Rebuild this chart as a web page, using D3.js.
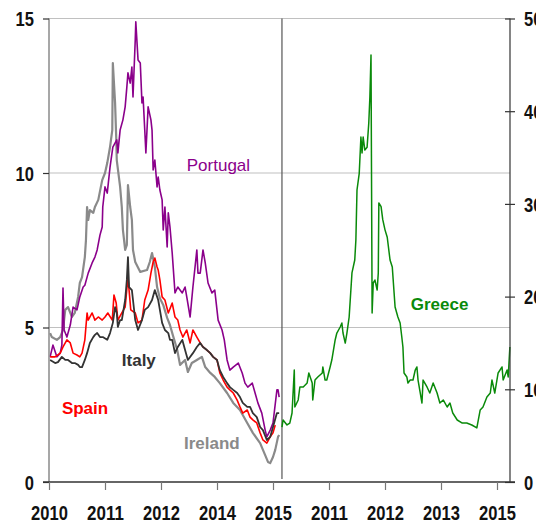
<!DOCTYPE html>
<html>
<head>
<meta charset="utf-8">
<script src="https://cdn.jsdelivr.net/npm/d3@7"></script>
<style>
  body { margin: 0; background: #fff; }
  svg { display: block; }
</style>
</head>
<body>
<svg id="chart"></svg>
<script>
// Position along the x axis is in "axis years" from the first tick (0 = 2010 tick).
// Left panel: peripheral spreads (left scale, %). Right panel: Greece (right scale, %).
const tickPos = [0, 1, 2, 3, 4, 5, 6, 7, 8];
const tickLabels = ["2010", "2011", "2012", "2014", "2015", "2011", "2012", "2013", "2015"];
const leftTicks = [0, 5, 10, 15];
const rightTicks = [0, 10, 20, 30, 40, 50];
const gridValues = [5, 10, 15];
const splitAt = 4.16; // where the Greece panel starts

const portugal = [[0.02,4.05],[0.07,4.43],[0.14,4.05],[0.20,4.17],[0.23,4.43],[0.25,6.28],[0.27,4.92],[0.32,4.69],[0.38,5.08],[0.43,5.66],[0.50,5.57],[0.55,5.99],[0.61,6.31],[0.64,6.37],[0.70,6.76],[0.77,7.09],[0.82,7.28],[0.86,7.51],[0.91,7.99],[0.95,8.25],[0.96,8.90],[1.00,9.55],[1.04,9.35],[1.09,10.19],[1.14,10.84],[1.21,11.07],[1.23,10.65],[1.27,11.39],[1.32,11.72],[1.36,12.14],[1.39,12.78],[1.41,13.24],[1.45,12.91],[1.48,13.43],[1.50,12.46],[1.54,14.30],[1.55,14.89],[1.59,13.66],[1.63,13.56],[1.66,12.27],[1.68,12.46],[1.71,11.39],[1.73,10.65],[1.77,12.14],[1.82,11.72],[1.84,11.39],[1.86,10.10],[1.89,10.42],[1.93,9.55],[1.95,9.87],[1.98,9.45],[2.02,9.13],[2.04,8.16],[2.07,8.90],[2.11,7.61],[2.13,8.71],[2.16,8.26],[2.20,7.41],[2.25,6.12],[2.30,6.31],[2.38,6.12],[2.43,6.31],[2.46,5.99],[2.52,5.34],[2.57,6.31],[2.64,7.51],[2.66,6.76],[2.70,6.76],[2.75,7.51],[2.79,7.09],[2.84,6.44],[2.91,6.12],[2.96,6.21],[3.02,5.24],[3.09,4.92],[3.13,4.60],[3.18,3.95],[3.23,3.62],[3.29,3.72],[3.38,3.85],[3.45,3.53],[3.50,3.20],[3.55,3.07],[3.63,3.20],[3.68,2.88],[3.73,2.56],[3.80,2.23],[3.86,1.68],[3.89,1.46],[3.95,1.68],[4.00,1.91],[4.07,2.98],[4.09,2.98],[4.11,2.75]];

const ireland = [[0.02,4.82],[0.05,4.69],[0.14,4.60],[0.20,4.69],[0.25,4.92],[0.29,5.57],[0.34,5.66],[0.41,5.34],[0.46,5.47],[0.52,5.99],[0.55,6.44],[0.59,6.63],[0.64,7.28],[0.66,7.83],[0.68,8.90],[0.70,8.48],[0.73,8.80],[0.79,8.71],[0.82,8.90],[0.88,9.13],[0.95,9.77],[1.00,10.00],[1.04,10.32],[1.09,10.84],[1.13,11.39],[1.14,13.56],[1.18,12.27],[1.20,11.17],[1.21,10.42],[1.27,9.55],[1.30,8.90],[1.32,8.16],[1.36,7.51],[1.39,7.67],[1.41,9.61],[1.45,8.90],[1.48,8.48],[1.50,7.51],[1.54,7.12],[1.63,6.80],[1.75,6.86],[1.80,7.12],[1.84,7.41],[1.89,6.96],[1.93,6.31],[1.98,5.95],[2.04,5.73],[2.11,5.31],[2.16,5.08],[2.21,4.76],[2.29,4.27],[2.34,3.79],[2.43,3.95],[2.48,3.56],[2.55,3.85],[2.64,3.95],[2.73,4.05],[2.79,3.72],[2.88,3.53],[2.96,3.40],[3.05,3.20],[3.18,2.88],[3.29,2.56],[3.41,2.33],[3.54,1.91],[3.64,1.59],[3.77,1.26],[3.86,0.87],[3.91,0.65],[3.95,0.61],[4.00,0.81],[4.04,1.04],[4.09,1.46],[4.11,1.52]];

const italy = [[0.02,3.95],[0.11,3.85],[0.16,3.88],[0.23,4.05],[0.29,3.95],[0.34,3.95],[0.41,3.85],[0.46,3.85],[0.52,3.79],[0.55,3.72],[0.59,3.72],[0.64,3.95],[0.68,4.17],[0.73,4.50],[0.79,4.69],[0.82,4.76],[0.86,4.82],[0.91,4.69],[0.96,4.69],[1.04,4.60],[1.09,4.82],[1.14,5.15],[1.18,5.66],[1.21,5.47],[1.23,5.02],[1.27,5.24],[1.30,5.24],[1.36,5.89],[1.39,6.54],[1.41,7.28],[1.43,6.31],[1.48,6.21],[1.50,5.89],[1.54,5.24],[1.59,4.92],[1.66,5.24],[1.71,5.57],[1.77,5.66],[1.84,5.89],[1.89,6.21],[1.95,5.89],[2.02,5.15],[2.07,4.92],[2.13,4.82],[2.16,4.60],[2.20,4.60],[2.25,4.17],[2.30,4.37],[2.38,4.60],[2.43,4.27],[2.48,3.95],[2.57,4.17],[2.64,4.37],[2.70,4.50],[2.75,4.37],[2.82,4.27],[2.88,4.17],[2.93,4.05],[3.00,3.95],[3.05,3.62],[3.11,3.40],[3.18,3.20],[3.23,3.07],[3.29,2.98],[3.36,2.88],[3.41,2.75],[3.46,2.56],[3.54,2.43],[3.59,2.43],[3.64,2.23],[3.71,2.10],[3.77,1.78],[3.82,1.68],[3.89,1.36],[3.95,1.46],[4.00,1.78],[4.07,2.23],[4.11,2.23]];

const spain = [[0.02,4.05],[0.11,4.05],[0.20,4.17],[0.25,4.37],[0.32,4.60],[0.38,4.50],[0.43,4.17],[0.50,4.11],[0.55,4.05],[0.59,4.17],[0.64,4.60],[0.68,5.47],[0.70,5.24],[0.77,5.47],[0.82,5.24],[0.88,5.34],[0.95,5.24],[1.00,5.34],[1.05,5.47],[1.13,5.24],[1.16,6.05],[1.20,5.79],[1.23,5.24],[1.30,5.47],[1.36,5.66],[1.41,6.63],[1.46,5.57],[1.54,5.47],[1.59,5.15],[1.66,5.24],[1.71,5.89],[1.77,6.21],[1.82,6.76],[1.86,7.12],[1.89,7.25],[1.93,6.96],[1.95,6.86],[1.98,6.54],[2.02,5.99],[2.07,5.89],[2.13,5.47],[2.20,5.79],[2.25,5.34],[2.30,5.24],[2.34,4.92],[2.39,4.69],[2.46,4.92],[2.52,4.50],[2.57,4.92],[2.64,4.69],[2.70,4.50],[2.75,4.37],[2.82,4.27],[2.88,4.17],[2.93,4.05],[3.00,3.95],[3.05,3.53],[3.11,3.30],[3.18,3.07],[3.23,2.98],[3.29,2.88],[3.36,2.65],[3.41,2.43],[3.46,2.23],[3.54,2.33],[3.59,2.10],[3.64,2.01],[3.71,1.91],[3.77,1.59],[3.82,1.36],[3.89,1.26],[3.95,1.46],[4.00,1.59],[4.04,1.84]];

const greece = [[4.16,5.93],[4.18,6.69],[4.25,6.15],[4.30,6.36],[4.34,7.44],[4.38,12.08],[4.39,8.09],[4.45,8.85],[4.48,10.25],[4.54,10.25],[4.61,10.68],[4.64,11.76],[4.70,10.68],[4.71,8.85],[4.75,11.00],[4.80,11.33],[4.88,11.76],[4.89,12.41],[4.93,11.00],[4.96,11.00],[5.02,12.41],[5.05,13.16],[5.11,15.32],[5.14,16.07],[5.20,16.72],[5.23,17.15],[5.25,16.07],[5.29,14.99],[5.32,16.07],[5.36,17.80],[5.41,22.55],[5.46,23.95],[5.48,26.11],[5.50,31.50],[5.54,33.30],[5.57,37.22],[5.59,35.49],[5.61,37.22],[5.64,35.81],[5.68,36.10],[5.71,38.70],[5.73,41.53],[5.75,46.06],[5.77,18.23],[5.79,21.47],[5.82,21.79],[5.86,20.71],[5.88,22.55],[5.89,30.10],[5.93,29.70],[5.96,28.30],[6.00,27.20],[6.04,26.40],[6.09,23.95],[6.13,23.19],[6.18,18.88],[6.23,17.80],[6.27,17.15],[6.30,15.64],[6.32,14.56],[6.34,11.76],[6.39,11.33],[6.41,10.68],[6.45,11.00],[6.50,11.00],[6.54,12.08],[6.57,12.41],[6.59,11.00],[6.63,9.60],[6.66,8.52],[6.68,11.00],[6.75,10.25],[6.80,9.60],[6.86,10.68],[6.93,9.60],[6.98,8.52],[7.04,8.85],[7.11,8.09],[7.16,8.52],[7.21,7.44],[7.29,6.69],[7.38,6.36],[7.46,6.36],[7.55,6.15],[7.64,5.83],[7.70,7.77],[7.75,8.09],[7.82,9.17],[7.88,9.60],[7.91,11.00],[7.96,9.60],[8.02,11.76],[8.09,12.41],[8.11,11.00],[8.18,12.08],[8.20,11.33],[8.23,14.56]];

const width = 536, height = 527;
const plot = { left: 49, right: 510, top: 18.5, bottom: 482 };
const axisFont = "'Liberation Sans', Arial, sans-serif";
const labelFont = "'Liberation Sans', Arial, sans-serif";

const svg = d3.select("#chart").attr("width", width).attr("height", height);
svg.append("rect").attr("width", width).attr("height", height).attr("fill", "#fff");

const x = d3.scaleLinear().domain([0, 8]).range([49, 497]);
const yL = d3.scaleLinear().domain([0, 15]).range([plot.bottom, plot.top]);
const yR = d3.scaleLinear().domain([0, 50]).range([plot.bottom, plot.top]);

// gridlines
svg.append("g").selectAll("line").data(gridValues).join("line")
    .attr("x1", plot.left).attr("x2", plot.right)
    .attr("y1", d => yL(d)).attr("y2", d => yL(d))
    .attr("stroke", "#c0c0c0").attr("stroke-width", 1.2);

// panel divider
svg.append("line")
    .attr("x1", x(splitAt)).attr("x2", x(splitAt))
    .attr("y1", plot.top).attr("y2", plot.bottom - 3)
    .attr("stroke", "#555").attr("stroke-width", 1.2);

// lines
const lineL = d3.line().x(d => x(d[0])).y(d => yL(d[1]));
const lineR = d3.line().x(d => x(d[0])).y(d => yR(d[1]));
const series = [
    { data: ireland, color: "#8a8a8a", w: 2.2, line: lineL },
    { data: portugal, color: "#8b008b", w: 1.6, line: lineL },
    { data: spain, color: "#ff0000", w: 1.6, line: lineL },
    { data: italy, color: "#333333", w: 1.8, line: lineL },
    { data: greece, color: "#0a8a0a", w: 1.5, line: lineR }
];
svg.append("g").selectAll("path").data(series).join("path")
    .attr("d", d => d.line(d.data))
    .attr("fill", "none")
    .attr("stroke", d => d.color)
    .attr("stroke-width", d => d.w)
    .attr("stroke-linejoin", "round");

// left axis
const gL = svg.append("g").attr("transform", `translate(${plot.left},0)`)
    .call(d3.axisLeft(yL).tickValues(leftTicks).tickSize(6).tickPadding(9).tickFormat(d3.format("d")));
gL.select(".domain").attr("stroke", "#8a8a8a").attr("stroke-width", 1.5).attr("d", `M0,${plot.top}V${plot.bottom}`);
gL.selectAll(".tick line").attr("stroke", "#333").attr("stroke-width", 1.2);

// right axis, ticks cross the line
const gR = svg.append("g").attr("transform", `translate(${plot.right},0)`)
    .call(d3.axisRight(yR).tickValues(rightTicks).tickSize(5).tickPadding(9).tickFormat(d3.format("d")));
gR.select(".domain").attr("stroke", "#333").attr("stroke-width", 1.2).attr("d", `M0,${plot.top}V${plot.bottom}`);
gR.selectAll(".tick line").attr("x1", -5).attr("stroke", "#333").attr("stroke-width", 1.2);

// bottom axis
const gB = svg.append("g").attr("transform", `translate(0,${plot.bottom})`)
    .call(d3.axisBottom(x).tickValues(tickPos).tickSize(8).tickPadding(16).tickFormat((d, i) => tickLabels[i]));
gB.select(".domain").attr("stroke", "#333").attr("stroke-width", 1.5).attr("d", `M43,0H515`);
gB.selectAll(".tick line").attr("stroke", "#777").attr("stroke-width", 1.2);

// condensed bold tick labels (narrow face squeezed to the reference width)
svg.selectAll(".tick text")
    .attr("font-family", axisFont).attr("font-weight", "bold")
    .attr("font-size", 20).attr("fill", "#111")
    .attr("lengthAdjust", "spacingAndGlyphs")
    .attr("textLength", function () { return this.textContent.length * 9.2; });
gL.selectAll(".tick text").attr("x", -15).attr("dy", "0.36em");
gR.selectAll(".tick text").attr("x", 14).attr("dy", "0.36em");

// series labels
const labels = [
    { text: "Portugal", t: 2.46, v: 10.05, color: "#8b008b", weight: "normal", axis: yL },
    { text: "Italy", t: 1.30, v: 3.75, color: "#333333", weight: "bold", axis: yL },
    { text: "Spain", t: 0.23, v: 2.2, color: "#ff0000", weight: "bold", axis: yL },
    { text: "Ireland", t: 2.41, v: 1.06, color: "#8a8a8a", weight: "bold", axis: yL },
    { text: "Greece", t: 6.46, v: 18.6, color: "#0a8a0a", weight: "bold", axis: yR }
];
svg.append("g").selectAll("text").data(labels).join("text")
    .attr("x", d => x(d.t)).attr("y", d => d.axis(d.v))
    .attr("fill", d => d.color)
    .attr("font-family", labelFont)
    .attr("font-weight", d => d.weight)
    .attr("font-size", 17)
    .text(d => d.text);
</script>
</body>
</html>
